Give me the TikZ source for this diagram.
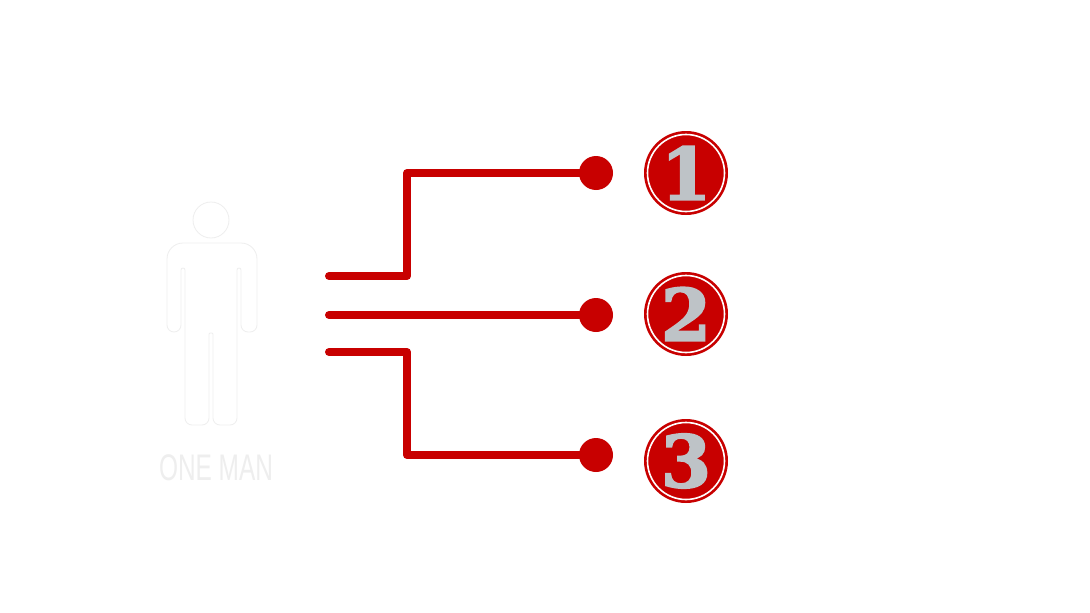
\documentclass[tikz,border=0pt]{standalone}
\usepackage{fontspec}
\setmainfont{Liberation Sans}
\newfontfamily\numfont[FakeBold=2.5]{DejaVu Serif}
\definecolor{redc}{HTML}{C80000}
\definecolor{greyn}{HTML}{BEC3C7}
\definecolor{faint}{HTML}{EEEEEE}
\begin{document}
\begin{tikzpicture}[x=1pt,y=-1pt,
  wire/.style={draw=redc,line width=8pt,line cap=round,line join=round},
  dotn/.style={circle,fill=redc,minimum size=34pt,inner sep=0pt},
  badge/.style={circle,fill=redc,minimum size=84pt,inner sep=0pt,
    font=\numfont\bfseries\fontsize{72}{72}\selectfont,text=greyn},
  man/.style={draw=faint,line width=0.8pt,fill=white}]
\useasboundingbox[fill=white] (0,0) rectangle (1090,613);
% man
\node[man,circle,minimum size=36pt,inner sep=0pt] (head) at (211,220) {};
\draw[man] (167,300) [rounded corners=16] -- (167,243) -- (257,243) [rounded corners=7] -- (257,332) -- (241,332) [rounded corners=2] -- (241,268) -- (237,268) [rounded corners=7] -- (237,425) -- (213,425) [rounded corners=1] -- (213,333) -- (209,333) [rounded corners=7] -- (209,425) -- (185,425) [rounded corners=2] -- (185,268) -- (181,268) [rounded corners=7] -- (181,332) -- (167,332) -- cycle;
\node[text=faint,font=\fontsize{37}{37}\selectfont,xscale=0.66,inner sep=0pt,anchor=base] (label) at (216,480) {ONE MAN};
% wires
\coordinate (s1) at (329,276);
\coordinate (b1a) at (407,276);
\coordinate (b1b) at (407,173);
\coordinate (s2) at (329,315);
\coordinate (s3) at (329,352);
\coordinate (b3a) at (407,352);
\coordinate (b3b) at (407,455);
\node[dotn] (d1) at (596,173) {};
\node[dotn] (d2) at (596,315) {};
\node[dotn] (d3) at (596,455) {};
\draw[wire] (s1) -- (b1a) -- (b1b) -- (d1.center);
\draw[wire] (s2) -- (d2.center);
\draw[wire] (s3) -- (b3a) -- (b3b) -- (d3.center);
% badges
\node[badge] (c1) at (686,173) {1};
\node[badge] (c2) at (686,314) {2};
\node[badge] (c3) at (686,461) {3};
\foreach \c in {c1,c2,c3}{
  \draw[white,line width=1.6pt] (\c.center) circle[radius=38.5pt];
}
\end{tikzpicture}
\end{document}
